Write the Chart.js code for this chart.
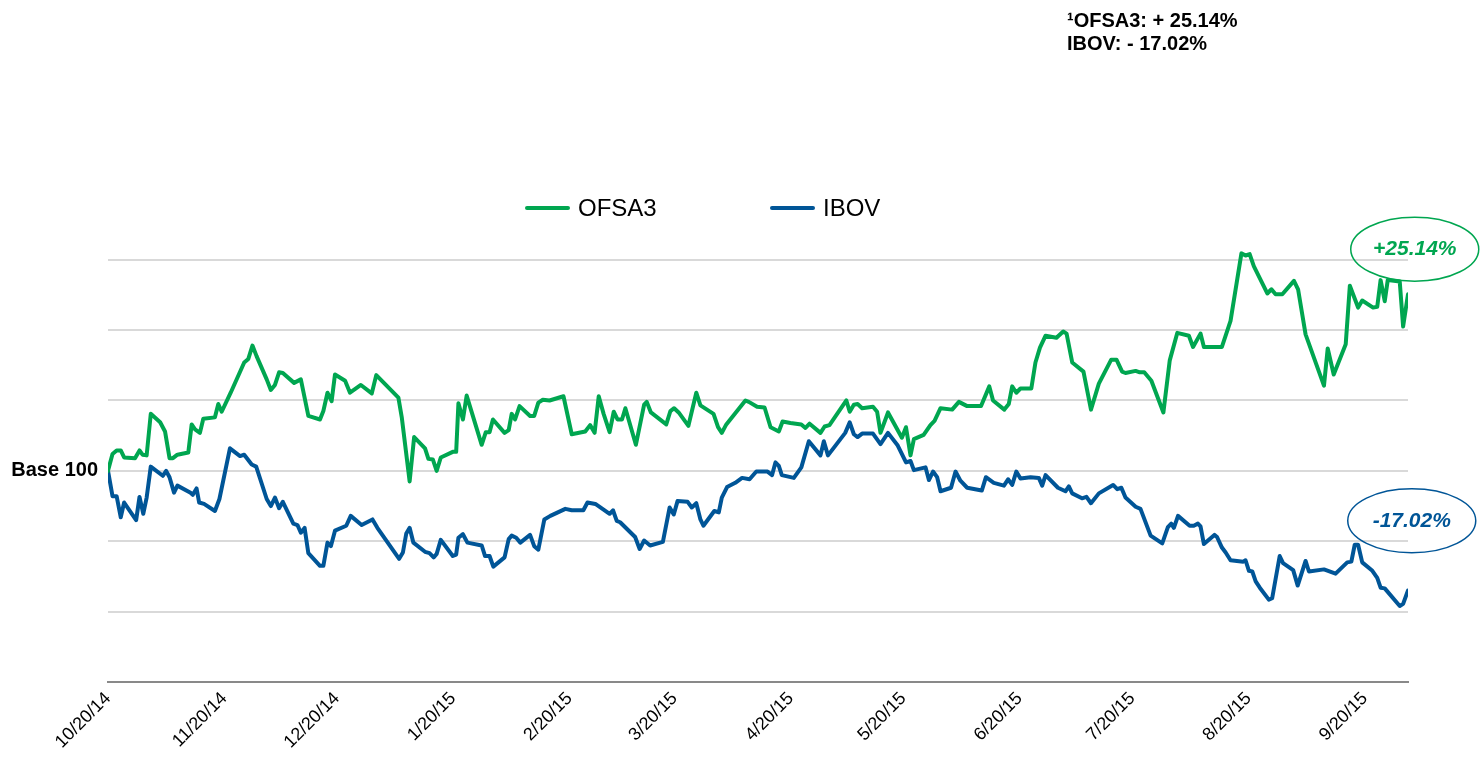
<!DOCTYPE html>
<html>
<head>
<meta charset="utf-8">
<script src="https://cdn.jsdelivr.net/npm/chart.js@4.4.1/dist/chart.umd.min.js"></script>
<style>
  body { margin: 0; background: #fff; font-family: 'Liberation Sans', Arial, sans-serif; }
  #wrap { position: relative; width: 1483px; height: 758px; }
  #note { position: absolute; left: 1067px; top: 9px; font-weight: bold; font-size: 20px; line-height: 23px; color: #000; }
  #legend { position: absolute; left: 525px; top: 194px; height: 28px; display: flex; }
  .item { display: flex; align-items: center; width: 245px; font-size: 24px; color: #000; }
  .swatch { width: 45px; height: 4px; border-radius: 2px; margin-right: 8px; }
</style>
</head>
<body>
<div id="wrap">
  <canvas id="chart"></canvas>
  <div id="note">¹OFSA3: + 25.14%<br>IBOV: - 17.02%</div>
  <div id="legend"></div>
</div>
<script>
/* ── look ── */
Chart.defaults.font.family = "'Liberation Sans', Arial, sans-serif";
Chart.defaults.color = '#000';

const GREEN = '#00A650';
const BLUE  = '#005597';

/* ── x axis: days since 10/20/14 ── */
const tickDays   = [0, 31, 61, 92, 123, 151, 182, 212, 243, 273, 304, 335];
const tickLabels = ['10/20/14','11/20/14','12/20/14','1/20/15','2/20/15','3/20/15',
                    '4/20/15','5/20/15','6/20/15','7/20/15','8/20/15','9/20/15'];

/* ── OFSA3 (base 100) ── */
const ofsaDays = [0,1.2,2.3,3.4,4.3,7.2,8.4,9.2,10.3,11.4,13.9,15.2,16.4,17.3,18.5,21.4,22.3,23.2,24.5,25.4,
  28.5,29.4,30.3,32.7,36.3,37.4,38.5,39.6,42.3,43.4,44.5,45.6,46.6,49.6,51.4,53.4,56.5,57.4,58.5,59.6,
  60.5,63.2,64.5,67.4,70.3,71.5,77.4,78.3,80.4,81.6,84.5,85.4,86.6,87.6,88.7,91.9,92.8,93.4,94.6,95.6,
  99.6,100.7,101.7,102.6,105.7,106.8,107.6,108.5,109.7,112.5,113.6,114.7,115.9,117.7,121.4,123.6,127.2,128.5,129.7,130.8,
  132.1,133.7,134.8,135.8,137.0,137.9,140.7,142.9,143.6,144.7,148.8,149.9,150.9,152.1,154.7,156.8,157.9,161.4,162.6,163.6,
  164.8,169.9,170.8,173.0,175.0,176.6,178.8,179.8,181.9,184.8,185.9,187.0,189.9,191.0,192.3,196.8,197.7,198.8,199.8,201.0,
  203.9,205.0,205.9,207.9,211.6,212.7,213.9,214.8,217.4,219.2,220.3,221.9,225.0,226.8,229.0,232.7,234.9,235.9,238.9,240.1,
  241.0,242.1,243.2,246.1,247.2,248.4,249.9,252.8,254.6,255.5,257.0,260.0,262.0,264.1,267.4,268.8,270.3,271.2,273.9,275.0,
  276.2,278.1,281.3,283.0,285.0,288.1,289.2,291.2,292.1,296.9,299.2,302.1,303.2,304.3,305.4,309.0,310.1,311.2,313.0,316.1,
  317.2,319.2,324.1,325.1,326.7,329.9,331.0,333.2,334.3,337.2,338.3,339.2,340.3,341.1,344.3,345.2,346.5];
const ofsaVals = [100,102.4,102.9,102.9,101.9,101.8,102.9,102.3,102.2,108.1,106.9,105.6,101.8,101.8,102.3,102.6,106.6,105.9,105.4,107.4,
  107.6,109.5,108.4,111.1,115.4,115.9,117.8,116.3,113.0,111.5,112.2,114.0,113.9,112.5,113.0,107.8,107.3,108.5,111.1,109.9,
  113.7,112.8,111.1,112.2,111.0,113.6,110.4,107.6,98.5,104.8,103.2,101.7,101.6,100.0,101.9,102.7,102.7,109.6,107.3,110.7,
  103.7,105.5,105.5,107.3,105.4,105.8,108.1,107.3,109.2,107.8,107.8,109.7,110.1,110.0,110.6,105.2,105.6,106.5,105.4,110.6,
  108.1,105.5,108.4,107.3,107.3,108.9,103.7,109.4,109.8,108.3,106.6,108.5,108.9,108.3,106.4,111.1,109.3,108.1,106.2,105.4,
  106.6,110.0,109.8,109.1,109.0,106.2,105.6,107.0,106.8,106.6,106.1,106.7,105.4,106.3,106.5,110.0,108.4,109.4,109.5,108.9,
  109.1,108.4,105.4,108.3,104.7,106.2,102.2,104.5,105.1,106.5,107.1,108.9,108.7,109.8,109.2,109.2,112.0,110.0,108.7,109.5,
  112.0,111.1,111.7,111.7,115.4,117.5,119.2,118.9,119.8,119.5,115.4,114.1,108.7,112.4,115.8,115.8,114.1,113.9,114.2,114.0,
  114.0,112.8,108.3,115.7,119.6,119.2,117.6,119.5,117.6,117.6,121.3,130.9,130.6,130.8,129.1,125.2,125.8,125.1,125.1,127.0,
  125.8,119.4,112.1,117.4,113.7,118.0,126.3,123.2,124.2,123.2,123.3,127.1,124.1,127.1,126.9,120.5,125.1];

/* ── IBOV (base 100) ── */
const ibovDays = [0,1.2,2.3,3.4,4.3,7.5,8.4,9.4,10.3,11.4,14.6,15.5,16.4,17.6,18.5,22.0,22.6,23.6,24.3,25.6,
  28.5,29.7,32.5,35.2,36.3,38.3,39.5,42.3,43.4,44.5,45.6,46.6,49.4,50.5,51.4,52.4,53.4,56.5,57.4,58.5,
  59.4,60.5,63.5,64.7,67.6,70.5,71.8,77.6,78.6,79.5,80.4,81.4,84.5,85.7,86.8,87.6,88.7,91.9,92.8,93.4,
  94.6,95.8,99.6,100.5,101.7,102.7,105.7,106.8,107.6,108.8,109.9,112.5,113.6,114.7,116.3,117.9,121.9,123.6,126.7,127.8,
  129.9,133.7,134.6,135.6,136.5,140.5,141.7,142.9,144.5,147.9,149.7,150.8,151.8,154.5,155.6,156.8,157.9,158.7,161.6,162.8,
  163.6,165.0,167.2,169.0,171.0,172.8,175.8,177.0,177.9,178.8,179.6,182.8,184.8,186.8,189.9,190.8,191.9,196.5,197.7,198.8,
  199.8,201.0,203.9,205.9,207.9,210.5,212.7,213.9,214.8,217.9,218.8,219.9,221.0,221.9,224.7,225.9,227.2,229.0,232.9,234.0,
  236.1,238.8,239.9,241.0,242.1,243.2,245.9,248.1,249.0,249.9,253.2,255.2,256.1,257.0,259.6,260.8,262.0,264.1,267.9,269.0,
  270.1,271.2,273.9,275.2,277.9,281.0,282.5,283.4,284.1,285.2,288.3,289.4,290.5,291.2,292.1,294.9,295.6,296.9,297.9,299.2,
  302.6,303.2,304.1,305.0,305.9,307.0,309.4,310.3,312.3,313.2,315.9,317.1,319.2,320.1,324.1,327.2,330.3,331.4,332.3,333.2,
  334.3,337.0,338.3,339.2,340.3,344.3,345.2,346.5];
const ibovVals = [100,96.4,96.4,93.4,95.5,93.0,96.3,93.9,96.2,100.6,99.3,100.0,99.1,96.9,97.9,96.9,96.6,97.5,95.5,95.3,
  94.3,96.0,103.2,102.1,102.3,100.9,100.6,96.0,95.0,96.2,94.7,95.6,92.5,92.3,91.2,91.9,88.3,86.5,86.5,89.8,
  89.3,91.5,92.2,93.6,92.3,93.1,91.9,87.5,88.4,91.1,91.9,89.8,88.5,88.3,87.7,88.2,90.2,87.9,88.1,90.5,
  91.0,89.8,89.4,87.9,87.9,86.4,87.7,90.3,90.8,90.5,89.8,90.9,89.3,88.8,93.1,93.6,94.6,94.4,94.4,95.5,
  95.3,93.9,94.4,92.9,92.7,90.6,88.9,90.1,89.4,89.9,94.8,93.8,95.7,95.6,94.8,95.4,93.1,92.2,94.3,94.1,
  96.2,97.7,98.3,99.0,98.8,99.9,99.9,99.4,101.2,100.7,99.4,99.0,100.5,104.2,102.2,104.2,102.2,105.4,106.9,105.2,
  104.8,105.3,105.3,103.8,105.4,103.6,101.2,101.4,100.1,100.5,98.7,99.9,99.1,97.1,97.6,99.9,98.6,97.6,97.2,99.1,
  98.3,97.9,98.8,98.0,99.9,98.9,99.1,99.0,97.9,99.4,97.6,97.1,97.8,96.8,96.1,96.3,95.4,96.8,98.0,97.4,
  97.6,96.2,94.9,94.6,90.8,89.7,92.0,92.5,91.9,93.6,92.2,92.2,92.5,92.1,89.6,90.9,90.6,89.1,88.4,87.3,
  87.1,87.3,85.8,85.7,84.3,83.4,81.7,81.9,87.9,86.9,85.9,83.7,87.2,85.7,86.0,85.4,87.0,87.1,89.5,89.5,
  87.0,85.8,84.8,83.4,83.3,80.8,81.1,83.0];

/* ── end-of-period callouts ── */
const calloutTexts  = ['+25.14%', '-17.02%'];
const calloutDays   = [348.3, 347.5];
const calloutValues = [131.5, 92.9];
const calloutColors = [GREEN, BLUE];

const toPoints = (days, vals) => days.map((d, i) => ({ x: d, y: vals[i] }));

const calloutPlugin = {
  id: 'callouts',
  afterDraw(chart) {
    const { ctx, scales: { x, y } } = chart;
    calloutTexts.forEach((t, i) => {
      const cx = x.getPixelForValue(calloutDays[i]);
      const cy = y.getPixelForValue(calloutValues[i]);
      ctx.save();
      ctx.beginPath();
      ctx.ellipse(cx, cy, 64, 32, 0, 0, Math.PI * 2);
      ctx.strokeStyle = calloutColors[i];
      ctx.lineWidth = 1.5;
      ctx.stroke();
      ctx.font = "italic bold 21px 'Liberation Sans', Arial, sans-serif";
      ctx.fillStyle = calloutColors[i];
      ctx.textAlign = 'center';
      ctx.textBaseline = 'middle';
      ctx.fillText(t, cx, cy);
      ctx.restore();
    });
  }
};

function lineDataset(label, points, color) {
  return {
    label,
    data: points,
    borderColor: color,
    backgroundColor: color,
    borderWidth: 4,
    pointRadius: 0,
    tension: 0,
    borderJoinStyle: 'round',
    borderCapStyle: 'round',
    fill: false,
  };
}

const chart = new Chart(document.getElementById('chart'), {
  type: 'line',
  data: {
    datasets: [
      lineDataset('OFSA3', toPoints(ofsaDays, ofsaVals), GREEN),
      lineDataset('IBOV', toPoints(ibovDays, ibovVals), BLUE),
    ]
  },
  options: {
    responsive: true,
    maintainAspectRatio: false,
    animation: false,
    layout: { padding: { top: 240, right: 75, left: 10, bottom: 0 } },
    plugins: { legend: { display: false }, tooltip: { enabled: false } },
    scales: {
      x: {
        type: 'linear', min: 0, max: 346.5,
        afterBuildTicks: axis => { axis.ticks = tickDays.map(v => ({ value: v })); },
        afterFit: axis => { axis.height = 76; },
        grid: { display: false, drawTicks: false },
        border: { display: true, color: '#898989', width: 2 },
        ticks: {
          autoSkip: false, minRotation: 45, maxRotation: 45, padding: 6,
          color: '#000', font: { size: 18 },
          callback: (v, i) => tickLabels[i],
        },
      },
      y: {
        min: 70, max: 132.8,
        afterFit: axis => { axis.width = 98; },
        grid: { color: '#d9d9d9', lineWidth: 2, drawTicks: false },
        border: { display: false },
        ticks: {
          stepSize: 10, includeBounds: false, padding: 10,
          color: '#000', font: { size: 20, weight: 'bold' },
          callback: v => v === 100 ? 'Base 100' : '',
        },
      }
    }
  },
  plugins: [calloutPlugin]
});

/* ── legend (html) ── */
const legendEl = document.getElementById('legend');
chart.data.datasets.forEach(ds => {
  const item = document.createElement('div');
  item.className = 'item';
  item.innerHTML = '<span class="swatch" style="background:' + ds.borderColor + '"></span><span>' + ds.label + '</span>';
  legendEl.appendChild(item);
});
</script>
</body>
</html>
